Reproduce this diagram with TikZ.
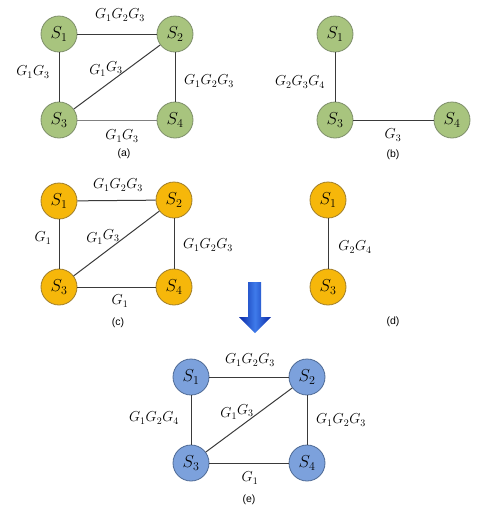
\documentclass[tikz,border=0pt]{standalone}
\usepackage{fontspec}
\newfontfamily\capfont{Liberation Sans}
\definecolor{gfill}{HTML}{A8C47E}
\definecolor{gdraw}{HTML}{7E8F6A}
\definecolor{ofill}{HTML}{F6B70A}
\definecolor{odraw}{HTML}{A07E2A}
\definecolor{bfill}{HTML}{7CA1DC}
\definecolor{bdraw}{HTML}{4E6A95}
\definecolor{edgec}{HTML}{3A3A3A}
\definecolor{arrdark}{HTML}{0A2AA8}
\definecolor{arrlight}{HTML}{3F7BEA}
\newcommand{\diaglab}{$G_1$\raisebox{3pt}{$G_3$}}
\begin{document}
\begin{tikzpicture}[x=1pt,y=-1pt,
  st/.style={circle,minimum size=36pt,inner sep=0pt,line width=0.8pt,font=\fontsize{17}{17}\selectfont},
  gn/.style={st,fill=gfill,draw=gdraw},
  on/.style={st,fill=ofill,draw=odraw},
  bn/.style={st,fill=bfill,draw=bdraw},
  ed/.style={draw=edgec,line width=1pt},
  lb/.style={inner sep=0pt,font=\fontsize{14.5}{14.5}\selectfont},
  dlb/.style={lb},
  captxt/.style={inner sep=0pt,font=\capfont\fontsize{10.5}{11}\selectfont}]
\useasboundingbox (0,0) rectangle (477,507);
% (a)
\node[gn] (a1) at (59,34) {$S_1$};
\node[gn] (a2) at (175,34) {$S_2$};
\node[gn] (a3) at (59,120) {$S_3$};
\node[gn] (a4) at (175,120) {$S_4$};
\draw[ed] (a1) -- (a2);
\draw[ed] (a1) -- (a3);
\draw[ed] (a2) -- (a4);
\draw[ed] (a3) -- (a2);
\draw[ed,draw=gray] (a3) -- (a4);
\node[lb] (la1) at (120,15) {$G_1G_2G_3$};
\node[lb] (la2) at (33,72) {$G_1G_3$};
\node[dlb] (la3) at (106,69) {\diaglab};
\node[lb] (la4) at (209,81) {$G_1G_2G_3$};
\node[lb] (la5) at (122,136) {$G_1G_3$};
\node[captxt] (ca) at (124,154) {(a)};
% (b)
\node[gn] (b1) at (335,34) {$S_1$};
\node[gn] (b3) at (335,120) {$S_3$};
\node[gn] (b4) at (452,120) {$S_4$};
\draw[ed] (b1) -- (b3);
\draw[ed] (b3) -- (b4);
\node[lb] (lb1) at (300,82) {$G_2G_3G_4$};
\node[lb] (lb2) at (393,135) {$G_3$};
\node[captxt] (cb) at (393,155) {(b)};
% (c)
\node[on] (c1) at (59,201) {$S_1$};
\node[on] (c2) at (174,200) {$S_2$};
\node[on] (c3) at (59,287) {$S_3$};
\node[on] (c4) at (174,287) {$S_4$};
\draw[ed] (c1) -- (c2);
\draw[ed] (c1) -- (c3);
\draw[ed] (c2) -- (c4);
\draw[ed] (c3) -- (c2);
\draw[ed] (c3) -- (c4);
\node[lb] (lc1) at (118,185) {$G_1G_2G_3$};
\node[lb] (lc2) at (43,238) {$G_1$};
\node[dlb] (lc3) at (103,237) {\diaglab};
\node[lb] (lc4) at (208,245) {$G_1G_2G_3$};
\node[lb] (lc5) at (120,301) {$G_1$};
\node[captxt] (cc) at (118,323) {(c)};
% (d)
\node[on] (d1) at (328,200) {$S_1$};
\node[on] (d3) at (328,287) {$S_3$};
\draw[ed] (d1) -- (d3);
\node[lb] (ld1) at (355,247) {$G_2G_4$};
\node[captxt] (cd) at (393,322) {(d)};
% arrow
\shade[left color=arrdark,right color=arrdark,middle color=arrlight]
  (248,282) -- (261,282) -- (261,317) -- (271,317) -- (255,333) -- (239,317) -- (248,317) -- cycle;
% (e)
\node[bn] (e1) at (191,377) {$S_1$};
\node[bn] (e2) at (307,377) {$S_2$};
\node[bn] (e3) at (191,463) {$S_3$};
\node[bn] (e4) at (307,463) {$S_4$};
\draw[ed] (e1) -- (e2);
\draw[ed] (e1) -- (e3);
\draw[ed] (e2) -- (e4);
\draw[ed] (e3) -- (e2);
\draw[ed] (e3) -- (e4);
\node[lb] (le1) at (250,360) {$G_1G_2G_3$};
\node[lb] (le2) at (154,418) {$G_1G_2G_4$};
\node[dlb] (le3) at (237,412) {\diaglab};
\node[lb] (le4) at (341,420) {$G_1G_2G_3$};
\node[lb] (le5) at (250,478) {$G_1$};
\node[captxt] (ce) at (249,500) {(e)};
\end{tikzpicture}
\end{document}
